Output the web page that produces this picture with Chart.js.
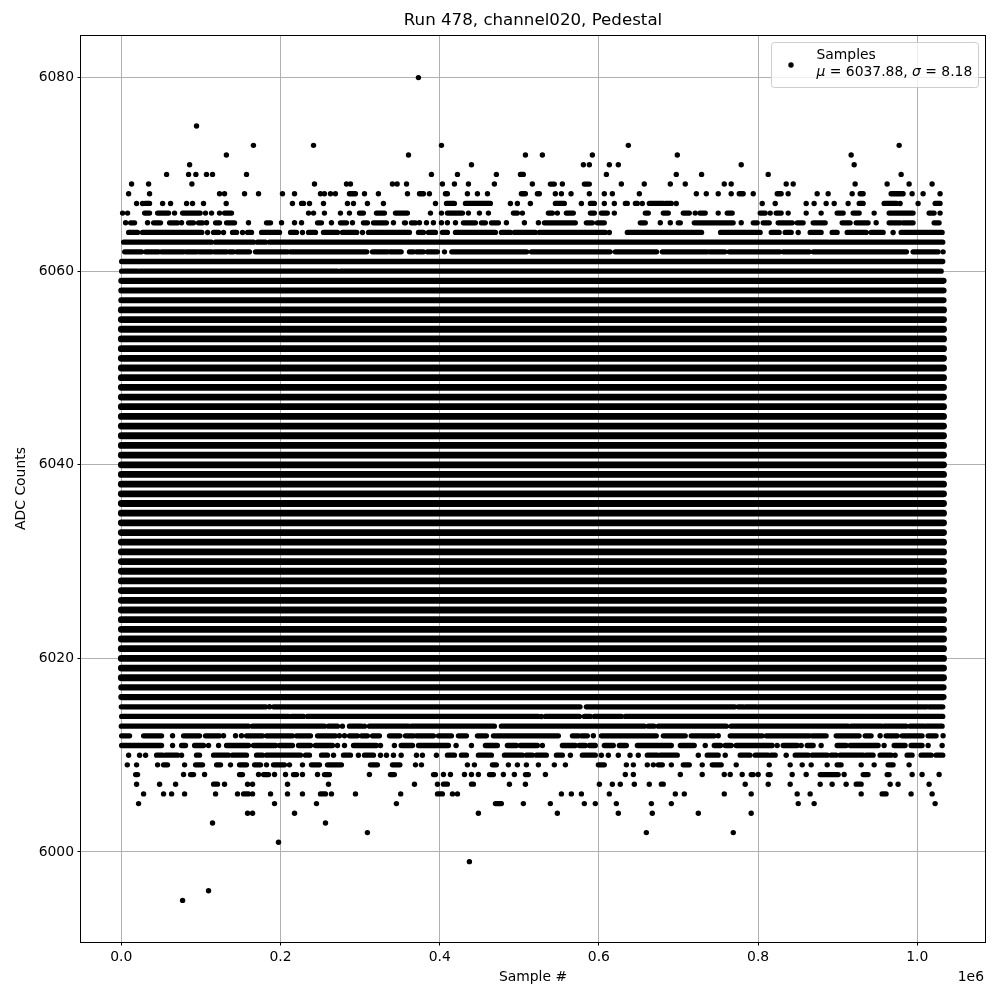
<!DOCTYPE html>
<html>
<head>
<meta charset="utf-8">
<title>Run 478, channel020, Pedestal</title>
<script src="https://cdn.jsdelivr.net/npm/chart.js"></script>
<style>
  html, body { margin: 0; padding: 0; background: #fff; }
  canvas { display: block; }
</style>
</head>
<body>
<canvas id="pedestalChart" width="1000" height="1000"></canvas>
<script>
// A plain number is one visible dot, a [start, end] pair is a run of overlapping dots.
const row6080 = [373.3];
const row6075 = [94.5];
const row6073 = [166, 241.5, 402.2, 637, 977.2];
const row6072 = [132, 360.8, 507.7, 529, 591.8, 698.5, 916.9];
const row6071 = [85.8, 439.9, 580.5, 588, 613.1, 624.4, 778.8, 920.7];
const row6070 = [56.9, 84.5, 93.7, 107, 114.6, 157.3, 389.6, 422.3, 471.2, [501.4, 505.1], 609.4, 697.2, 729, 812.7, 979.7];
const row6069 = [12.9, 34.3, 88.7, 242.7, 282.9, 287.9, 340.6, 346.5, 358.3, 403.4, 418.5, 436.1, 468.7, 516.4, [539, 544], 554.1, [581.7, 588], 628.2, 657, 689.7, 708.5, 757.5, 766.2, 835.3, 844.1, 921.9, 962.1, 989.7, 1018.6];
const row6068 = [9.2, 35.5, 123.4, 129.7, 154.8, 172.4, 202.5, 217.6, 250.2, 255.2, 262.8, 269, [286.6, 294.2], 305.5, 323, 359.5, [374.6, 379.6], 387.1, [407.2, 409.7], 434.8, 447.4, 460, [502.6, 507.7], [522.7, 525.2], 545.3, 552.9, 565, 588, 606.8, 616.9, 650.8, 722.4, 734.9, 749.9, 766.2, [776.3, 781.3], 793.9, [824, 829], 837.8, 874.2, 888, 918.2, [928.2, 932], [967.1, 982.2], 993.5, 1007.3, 1028.6];
const row6067 = [19.2, 26.7, [30, 35.5], 51.9, 61.9, 82, 89.5, 103.3, 131.8, 215, [226.4, 228.9], 236.4, 254, 284.1, 291.7, 309.2, 329.3, 394.7, [408.5, 418.5], [432.3, 463.7], 488.8, 497.6, 513.9, [545.3, 556.6], 578, [589.3, 594.3], 606.8, 619.4, [633.2, 635.7], [645.8, 648.3], 654.5, [663.3, 680.9], [683.4, 691], 697.2, 805.2, 821.5, 860.4, 870.4, 885.5, 895.6, 913.1, [927, 932], [958.3, 973.8], 978.4, 1001, [1022.4, 1028.6]];
const row6066 = [1.6, 7.9, [29.3, 35.5], [45.6, 59.4], 66.9, [77, 99.1], 105.8, 113.4, 123.4, [129.7, 138.5], 235.2, 241.5, 255.2, 275.3, 286.6, [299.2, 304.2], [320.5, 330.6], [344.4, 359.5], 388.4, 402.2, [409.7, 428.6], 436.1, 449.9, 461.2, [492.6, 497.6], 503.9, [536.5, 541.6], 547.8, [559.1, 567.9], [589.3, 594.3], [603.1, 610.6], 619.4, [658.3, 662.1], [680.9, 687.2], [706, 713.6], 721, [727, 733.6], 749.9, [761.2, 767.5], [802.6, 808.9], 815.2, [822.7, 829], 837.8, 860.4, 879.2, [899.3, 906.9], [919.4, 927], 945.8, [964.6, 994.7], [1014.8, 1021.1], 1028.6];
const row6065 = [5.4, [11.7, 16.7], 33, [40.6, 49.3], [60.6, 70.7], 75.7, [84.5, 90.8], [97, 102.1], 107.1, [118.4, 123.4], [132.2, 142.3], 159.8, [182.4, 187.5], 201.3, 217.6, 226.4, [246.5, 251.5], 264, [275.3, 282.9], 290.4, [304.2, 309.2], [316.8, 333.1], 341.9, [355.7, 357], [364.5, 369.6], 374.6, 383.4, 392.1, 402.2, 409.7, 419.8, [429.8, 444.9], [452.4, 457.4], [465, 473.8], 483.8, 506.4, 524, [531.5, 570.4], [584.2, 591.8], [598, 606.8], [652, 658.3], 677.1, 689.7, [699.7, 702.3], [719.8, 768.7], 778.8, [793.9, 798.9], [806.4, 814], [825.2, 842.8], [849.1, 856.6], [869.2, 884.3], [905.6, 915.6], [923.2, 938.2], 948.3, [964.6, 978.4], [982.2, 994.7], [1021.1, 1027.4]];
const row6064 = [[9.2, 20.5], [26.7, 101.2], 108.4, [115.9, 122.2], 128.4, [139.7, 144.8], 152.3, [158.6, 163.6], [176.2, 198.8], [212.6, 220.1], 227.6, [235.2, 244], [254, 271.6], [277.8, 295.8], 303, [310.5, 362], [373.3, 379.6], [385.9, 394.7], [403.4, 409.7], [419.8, 470], [477.5, 488.8], [493.8, 520.2], [525.2, 608], 613.1, [635.7, 729], [752.8, 802.6], [816.5, 826.5], [834, 841.6], 850.4, [865.4, 879.2], [893, 899.3], [911.9, 935.7], [942, 957.1], 969.6, [979.7, 1031.2]];
const row6063 = [[2.9, 113], [118.4, 166.1], [171.1, 181.2], [186.2, 888], [890.5, 1032]];
const row6062 = [[4.2, 25.5], [30.5, 46.8], [50.6, 78.2], [81.6, 95], [98.3, 113.4], [117.1, 132.2], [136, 141], [145.2, 161.1], [168.6, 208.8], [212.6, 308.4], [315.5, 334.3], [337.7, 351.6], [362, 367], [371, 379.6], [384.6, 397.2], 406, [415.2, 509.3], [515.2, 614], [620.6, 672.5], [679.7, 736], [739.5, 758.3], [763.7, 827.3], [831.5, 864.2], [869.2, 986.4], [994.7, 1026.1], 1032.4];
const row6061 = [[0.4, 1032]];
const row6060 = [[0.4, 20.5], [23, 271.6], [275.3, 1030]];
const row6015 = [[0, 181.6], 186.2, [191.2, 576.3], [584.2, 770.8], [775, 781.3], [783.8, 798], [800.1, 1011.5], [1014.8, 1032]];
const row6014 = [[0.4, 210], [213.8, 228.9], [233.9, 524], 527.7, [532.8, 575.5], [581.7, 589.3], [594.3, 628.2], [633.2, 940.3], [942, 1032]];
const row6013 = [[0, 159.8], [164.9, 255.2], [260.3, 271.6], 277.8, [286.6, 301.7], 305.5, [311.7, 360.8], [364.5, 468.7], [477.5, 657], [662, 669.2], [674.6, 760], [766.2, 913.1], [916.9, 955], [958.3, 986], [991, 1008.5], [1011, 1031.2]];
const row6012 = [[0.4, 10.4], [28, 50.6], 64.4, [78.2, 98.3], [105.8, 123.4], 128.4, 143.5, 151, [157.3, 177.4], [182.4, 215], [220.1, 237.7], [246.5, 269], 274, 280.4, [286.6, 296.7], [301.7, 309.2], [315.5, 324.3], [336.9, 350], [357, 367], [370.8, 392.2], [398.4, 414.8], [423.5, 433.6], [447.4, 458.7], [467.5, 549.1], [566.7, 574.2], [578, 585.5], 593, [603.1, 672.1], [680.9, 708.5], [716, 744.9], 749.9, [765, 805.2], [810.2, 864.2], [867.9, 885.5], [898.1, 926.9], [934.5, 942], 953.3, [960.8, 974.7], [980.9, 1006], [1013.6, 1023.6], 1032.4];
const row6011 = [[0.4, 50.6], 64.4, [75.7, 80.7], [92, 103.3], 109.6, 122.2, [132.2, 159.8], [166.1, 193.7], [198.8, 215], [222.6, 237.7], [243.9, 265.3], 271.6, 280.4, [291.7, 320.5], 325.6, 343.1, [351.6, 365.8], [373.3, 411], 420.6, 439.9, [457.4, 472.5], [485, 496.4], [501.4, 522.7], 529, [554.1, 570.4], [575.5, 583], [588, 595.5], [606.8, 618.1], [625.7, 634.5], [648.3, 691], [702.3, 719.8], 733.6, [744.9, 752.8], [758.7, 766.2], [772.5, 817.7], 824, [831.5, 849.1], 854.1, [861.7, 869.2], 879.2, [899.3, 910.6], [915.6, 950.8], 958.3, [970.9, 984.7], [992.2, 1006], 1013.6, 1031.2];
const row6010 = [9.2, 23, 30.5, [44.3, 51.9], [55.6, 70.7], 75.7, [94.5, 98.3], [115.9, 134.7], [139.7, 157.3], [169.9, 177.4], [182.4, 225.1], [231.4, 236.4], [251.5, 259], 266.6, [279.1, 287.9], 297.9, [305.5, 316.8], 325.6, 333.1, 341.9, 351.6, 370.8, 378.3, 395.9, [409.7, 418.5], [427.3, 433.6], [448.6, 465], [481.3, 503.9], [508.9, 516.4], [521.5, 534], [546.6, 554.1], 564.2, [579.2, 595.5], 603.1, 611.9, 624.4, 639.1, 649.5, [660.8, 673.4], [677.1, 698.5], 724.9, [736.1, 749.9], 758.7, [777.5, 789.7], [796.4, 812.7], [816.5, 821.5], 835.3, [846.6, 862.9], [867.9, 886.8], [891.8, 898], [903.1, 932], [935.7, 944.5], [953.3, 967.1], 972.1, [987.2, 993.5], [1004.8, 1017.3], [1023.6, 1032]];
const row6009 = [7.5, 19.2, 45.6, [53.1, 58.1], 79.5, [93.3, 102.1], [119.7, 124.7], 137.2, [148.5, 157.3], [167.4, 174.9], 182.4, [191.2, 205], 211.3, 227.6, [238.9, 249], [259, 276.6], [313, 321.8], [340.6, 350], 369.6, 377.1, 434.8, 443.6, [466.2, 471.2], 486.3, 497.6, 508.9, 524, 544, 557.9, [599.3, 606.8], 634.5, 643.3, 660.8, 668.4, [674.6, 679.7], 691, [706, 713.6], 729.8, [742.4, 753.7], 772.5, 814, 840.3, 855.4, 866.7, 886.8, [899.3, 904.3], 929.5, 945.8, [963.3, 969.6], 989.7];
const row6008 = [[18, 20.5], 78.2, [87, 90.8], 104.6, [148.5, 152.3], 172.4, [178.7, 185], 192.5, 206.3, [216.3, 220.1], 227.6, 246.5, [255.2, 261.5], 311.7, [338.1, 343.1], [392.2, 394.7], 404.7, 413.5, 431.1, 439.9, 448.6, [462.5, 467.5], 480, 493.8, [507.7, 511.4], 532.8, 633.2, 643.3, 702.3, 729.8, 757.5, 765, 780, [791.3, 793.9], 800.1, [812.7, 815.2], 842.8, 860.4, [878, 900.6], 908.1, [932, 938.2], [962.1, 964.6], 993.5, 1006, 1027.4];
const row6007 = [19.2, 48.1, 68.2, [115.9, 120.9], 129.7, 158.6, 164.9, 208.8, 260.3, 368.3, 397.2, [404.7, 409.7], [439.9, 442.4], 487.6, 507.7, 600.6, 616.9, 626.9, 644.5, 663.3, [678.4, 680.9], 783.8, 812.7, 840.3, 878, 893, 910.6, [923.2, 929.5], 965.9, 975.9, 1014.8];
const row6006 = [28, 53.1, 63.2, 79.5, 118.4, 146, [153.6, 159.8], 164.9, 187.5, 208.8, 227.6, [250.2, 256.5], 264, 294.2, 351, [397.2, 403.4], 416, 422.3, 552.9, 565.4, 578, 613.1, 696, 707.3, 757.5, 791.3, 849.1, 865.4, 929.5, [955.8, 960.8], 992.2, 1018.6];
const row6005 = [21.7, 192.5, 245.2, 345.6, [470, 477.5], 505.1, 539, 581.7, 595.5, 621.9, 665.9, 691, 850.4, 870.4, 1022.4];
const row6004 = [158.6, 164.9, 217.6, 448.6, 547.8, 624.4, 667.1, 724.9, 791.3];
const row6003 = [114.6, 256.5];
const row6002 = [309.2, 659.6, 768.8];
const row6001 = [197.5];
const row5999 = [437.3];
const row5996 = [109.6];
const row5995 = [77];

const rowLevels = [6080, 6075, 6073, 6072, 6071, 6070, 6069, 6068, 6067, 6066, 6065, 6064, 6063, 6062, 6061, 6060, 6015, 6014, 6013, 6012, 6011, 6010, 6009, 6008, 6007, 6006, 6005, 6004, 6003, 6002, 6001, 5999, 5996, 5995];
const rowSamples = [row6080, row6075, row6073, row6072, row6071, row6070, row6069, row6068, row6067, row6066, row6065, row6064, row6063, row6062, row6061, row6060, row6015, row6014, row6013, row6012, row6011, row6010, row6009, row6008, row6007, row6006, row6005, row6004, row6003, row6002, row6001, row5999, row5996, row5995];

// every ADC level in these bands is hit along the whole run
const edgeLevels = [6059, 6058, 6057, 6017, 6016];
const solidLevels = [6056, 6055, 6054, 6053, 6052, 6051, 6050, 6049, 6048, 6047, 6046, 6045, 6044, 6043, 6042, 6041, 6040, 6039, 6038, 6037, 6036, 6035, 6034, 6033, 6032, 6031, 6030, 6029, 6028, 6027, 6026, 6025, 6024, 6023, 6022, 6021, 6020, 6019, 6018];
const solidRun = [0, 1033];

const xTicks = [0, 200000, 400000, 600000, 800000, 1000000];
const yTicks = [6000, 6020, 6040, 6060, 6080];
const legendMean = '6037.88';
const legendSigma = '8.18';

document.addEventListener('DOMContentLoaded', () => {
    const FONT = '"DejaVu Sans"';

    // --- Split the rows into single dots and runs ---
    const dots = [];
    const runs = [];
    const addRun = (run, level, target) => {
        target.push({ x: run[0] * 1000, y: level }, { x: run[1] * 1000, y: level }, { x: NaN, y: NaN });
    };
    rowLevels.forEach((level, i) => {
        rowSamples[i].forEach(item => {
            if (Array.isArray(item)) addRun(item, level, runs);
            else dots.push({ x: item * 1000, y: level });
        });
    });
    const edgeRuns = [];
    edgeLevels.forEach(level => addRun(solidRun, level, edgeRuns));
    const solidRuns = [];
    solidLevels.forEach(level => addRun(solidRun, level, solidRuns));

    const lineSet = (data, width) => ({
        data,
        showLine: true,
        spanGaps: false,
        pointRadius: 0,
        borderColor: '#000',
        borderWidth: width,
        borderCapStyle: 'round',
        tension: 0
    });

    // --- Frame, offset text and legend box are not native to Chart.js ---
    const frameAndLegend = {
        id: 'frameAndLegend',
        afterDraw(chart) {
            const { ctx, chartArea: { left, top, right, bottom } } = chart;
            ctx.save();
            ctx.strokeStyle = '#000';
            ctx.lineWidth = 1;
            ctx.strokeRect(left - 0.5, top + 0.5, right - left + 1, bottom - top);

            ctx.fillStyle = '#000';
            ctx.font = `13.9px ${FONT}`;
            ctx.textAlign = 'right';
            ctx.textBaseline = 'alphabetic';
            ctx.fillText('1e6', 984, 981);

            // legend box
            ctx.beginPath();
            ctx.roundRect(771.5, 42.5, 207, 45, 3);
            ctx.fillStyle = 'rgba(255,255,255,0.8)';
            ctx.fill();
            ctx.strokeStyle = '#cccccc';
            ctx.lineWidth = 1;
            ctx.stroke();

            ctx.fillStyle = '#000';
            ctx.beginPath();
            ctx.arc(791, 65, 2.7, 0, Math.PI * 2);
            ctx.fill();

            ctx.textAlign = 'left';
            ctx.fillText('Samples', 816.5, 59);
            const pieces = [
                ['μ', true], [` = ${legendMean}, `, false], ['σ', true], [` = ${legendSigma}`, false]
            ];
            let x = 816.5;
            pieces.forEach(([text, italic]) => {
                ctx.font = `${italic ? 'italic ' : ''}13.9px ${FONT}`;
                ctx.fillText(text, x, 76);
                x += ctx.measureText(text).width;
            });
            ctx.restore();
        }
    };

    new Chart(document.getElementById('pedestalChart'), {
        type: 'scatter',
        data: {
            datasets: [
                { label: 'Samples', data: dots, pointRadius: 2.7, pointBorderWidth: 0, backgroundColor: '#000' },
                lineSet(runs, 5.3),
                lineSet(edgeRuns, 6.1),
                lineSet(solidRuns, 6.8)
            ]
        },
        options: {
            responsive: false,
            animation: false,
            layout: { padding: { right: 15 } },
            plugins: {
                legend: { display: false },
                tooltip: { enabled: false },
                title: {
                    display: true,
                    fullSize: false,
                    text: 'Run 478, channel020, Pedestal',
                    color: '#000',
                    font: { family: FONT, size: 16.67, weight: 'normal', lineHeight: 1.2 },
                    padding: { top: 11, bottom: 4 }
                }
            },
            scales: {
                x: {
                    type: 'linear',
                    min: -50630,
                    max: 1085050,
                    afterFit: scale => { scale.height = 58; },
                    afterBuildTicks: scale => { scale.ticks = xTicks.map(value => ({ value })); },
                    title: {
                        display: true,
                        text: 'Sample #',
                        color: '#000',
                        font: { family: FONT, size: 13.9, lineHeight: 1.2 },
                        padding: { top: 0, bottom: 14.7 }
                    },
                    ticks: {
                        color: '#000',
                        font: { family: FONT, size: 13.9 },
                        padding: 3.5,
                        maxRotation: 0,
                        autoSkip: false,
                        callback: value => (value / 1000000).toFixed(1)
                    },
                    grid: { color: '#b0b0b0', lineWidth: 1, tickColor: '#000', tickLength: 3.5, tickWidth: 1 },
                    border: { display: false }
                },
                y: {
                    type: 'linear',
                    min: 5990.7,
                    max: 6084.4,
                    afterFit: scale => { scale.width = 81; },
                    afterBuildTicks: scale => { scale.ticks = yTicks.map(value => ({ value })); },
                    title: {
                        display: true,
                        text: 'ADC Counts',
                        color: '#000',
                        font: { family: FONT, size: 13.9, lineHeight: 1.2 },
                        padding: { top: 12.7, bottom: 0 }
                    },
                    ticks: {
                        color: '#000',
                        font: { family: FONT, size: 13.9 },
                        padding: 3.5,
                        autoSkip: false,
                        callback: value => String(value)
                    },
                    grid: { color: '#b0b0b0', lineWidth: 1, tickColor: '#000', tickLength: 3.5, tickWidth: 1 },
                    border: { display: false }
                }
            }
        },
        plugins: [frameAndLegend]
    });
});
</script>
</body>
</html>
